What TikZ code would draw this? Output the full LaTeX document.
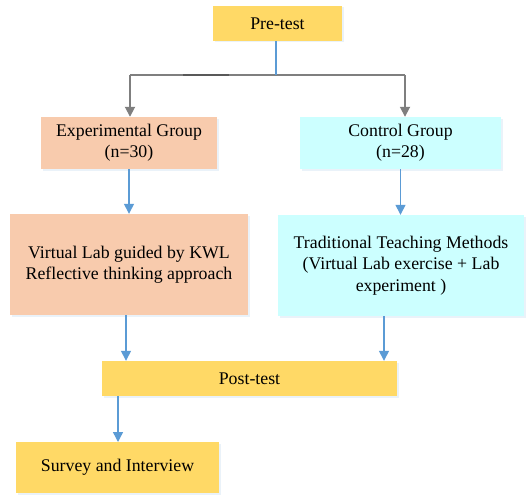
\documentclass[tikz,border=0pt]{standalone}
\usepackage{fontspec}
\setmainfont{Liberation Serif}
\usetikzlibrary{arrows.meta,shadows}
\definecolor{ygold}{HTML}{FFD966}
\definecolor{salmon}{HTML}{F8CBAD}
\definecolor{lcyan}{HTML}{CCFFFF}
\definecolor{ablue}{HTML}{5B9BD5}
\definecolor{agray}{HTML}{7F7F7F}
\begin{document}
\begin{tikzpicture}[x=1pt,y=-1pt,
  box/.style={inner sep=0pt, align=center, font=\fontsize{17.8}{21.3}\selectfont,
    drop shadow={shadow xshift=1.5pt, shadow yshift=-1.5pt, fill=ablue!25, opacity=0.5}},
  ybox/.style={box, fill=ygold},
  sbox/.style={box, fill=salmon},
  cbox/.style={box, fill=lcyan},
  barrow/.style={draw=ablue, line width=1.4pt, -{Triangle[length=10pt,width=10pt]}},
  garrow/.style={draw=agray, line width=1.8pt, -{Triangle[length=10pt,width=10pt]}}]
\useasboundingbox (0,0) rectangle (529,495);
\node[ybox, minimum width=129pt, minimum height=35pt] (pre) at (277.5,23.5) {Pre-test};
\node[sbox, minimum width=176pt, minimum height=52pt] (exp) at (129,143) {Experimental Group\\(n=30)};
\node[cbox, minimum width=201pt, minimum height=52pt] (ctrl) at (400.5,143) {Control Group\\(n=28)};
\node[sbox, minimum width=238pt, minimum height=101pt] (vlab) at (129,264.5) {Virtual Lab guided by KWL\\Reflective thinking approach};
\node[cbox, minimum width=246pt, minimum height=101pt] (trad) at (401,265.5) {Traditional Teaching Methods\\(Virtual Lab exercise + Lab\\experiment )};
\node[ybox, minimum width=295pt, minimum height=35pt] (post) at (249.5,378.5) {Post-test};
\node[ybox, minimum width=203pt, minimum height=51pt] (survey) at (117.5,467.5) {Survey and Interview};
% split
\coordinate (jn) at (276,75);
\coordinate (jl) at (130,75);
\coordinate (jr) at (405,75);
\draw[agray, line width=1.8pt] (jl) -- (jr);
\draw[agray!70!black, line width=1.8pt] (183,75) -- (229,75);
\draw[ablue, line width=1.4pt] (pre.south -| jn) -- (jn);
\draw[garrow] (jl) -- (jl |- exp.north);
\draw[garrow] (jr) -- (jr |- ctrl.north);
% flow
\draw[barrow] (exp.south) -- (vlab.north);
\draw[barrow] (ctrl.south) -- (ctrl.south |- trad.north);
\draw[barrow] ([xshift=-3pt]vlab.south) -- ([xshift=-3pt]vlab.south |- post.north);
\draw[barrow] ([xshift=-17pt]trad.south) -- ([xshift=-17pt]trad.south |- post.north);
\draw[barrow] (118,396) -- (118,442);
\end{tikzpicture}
\end{document}
